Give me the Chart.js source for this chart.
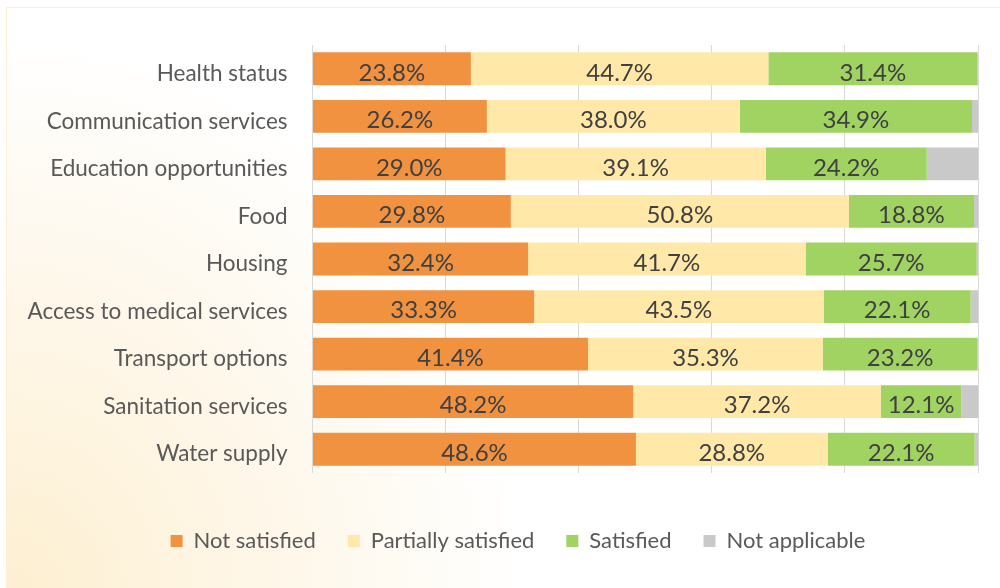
<!DOCTYPE html>
<html>
<head>
<meta charset="utf-8">
<script src="https://cdn.jsdelivr.net/npm/chart.js@4.4.1/dist/chart.umd.min.js"></script>
<style>
  html, body { margin: 0; padding: 0; background: #fff; }
  #wrap {
    position: relative; width: 1000px; height: 588px; overflow: hidden;
    background: #fff;
  }
  #frame {
    position: absolute; left: 6px; top: 7px; width: 1010px; height: 600px;
    border: 1px solid #fcefd6; box-sizing: border-box;
    background: radial-gradient(ellipse 520px 560px at 0px 588px, #fdefd0 0%, #fef6e6 45%, #ffffff 100%);
  }
  canvas { position: absolute; left: 0; top: 0; }
</style>
</head>
<body>
<div id="wrap">
  <div id="frame"></div>
  <canvas id="c" width="1000" height="588"></canvas>
</div>
<script>
// Survey categories, top to bottom
const categories = [
  'Health status', 'Communication services', 'Education opportunities', 'Food',
  'Housing', 'Access to medical services', 'Transport options',
  'Sanitation services', 'Water supply'
];
// Share of respondents (%) per answer
const notSatisfied       = [23.8, 26.2, 29.0, 29.8, 32.4, 33.3, 41.4, 48.2, 48.6];
const partiallySatisfied = [44.7, 38.0, 39.1, 50.8, 41.7, 43.5, 35.3, 37.2, 28.8];
const satisfied          = [31.4, 34.9, 24.2, 18.8, 25.7, 22.1, 23.2, 12.1, 22.1];
const notApplicable      = [0.1, 0.9, 7.7, 0.6, 0.2, 1.1, 0.1, 2.5, 0.5];
const seriesNames = ['Not satisfied', 'Partially satisfied', 'Satisfied', 'Not applicable'];
const seriesColors = ['#f19241', '#ffe8a8', '#a0d361', '#c9c9c9'];
const xTicks = [0, 20, 40, 60, 80, 100];

const FONT = 'Lato, "Open Sans", sans-serif';

// Writes the percentage in the middle of every labelled segment
const segmentLabels = {
  id: 'segmentLabels',
  afterDatasetsDraw(chart) {
    const ctx = chart.ctx;
    ctx.save();
    ctx.font = '24px ' + FONT;
    ctx.fillStyle = '#404040';
    ctx.textAlign = 'center';
    ctx.textBaseline = 'middle';
    chart.data.datasets.forEach((ds, di) => {
      if (!ds.showLabel) return;
      chart.getDatasetMeta(di).data.forEach((bar, i) => {
        const cx = (bar.x + bar.base) / 2;
        ctx.fillText(ds.data[i].toFixed(1) + '%', cx, bar.y + 4);
      });
    });
    ctx.restore();
  }
};

// Moves the legend row a little to the right of the canvas centre
const legendShift = {
  id: 'legendShift',
  afterLayout(chart) {
    const lg = chart.legend;
    if (lg) { lg.left += 29; lg.right += 29; }
  }
};

new Chart(document.getElementById('c'), {
  type: 'bar',
  data: {
    labels: categories,
    datasets: [
      { label: seriesNames[0], data: notSatisfied, backgroundColor: seriesColors[0], showLabel: true },
      { label: seriesNames[1], data: partiallySatisfied, backgroundColor: seriesColors[1], showLabel: true },
      { label: seriesNames[2], data: satisfied, backgroundColor: seriesColors[2], showLabel: true },
      { label: seriesNames[3], data: notApplicable, backgroundColor: seriesColors[3], showLabel: false }
    ]
  },
  options: {
    indexAxis: 'y',
    responsive: false,
    animation: false,
    devicePixelRatio: 1,
    layout: { padding: { top: 45, right: 22, left: 0, bottom: 26 } },
    datasets: { bar: { barPercentage: 0.69, categoryPercentage: 1.0, borderWidth: 0 } },
    scales: {
      x: {
        stacked: true, min: 0, max: 100,
        afterBuildTicks(scale) { scale.ticks = xTicks.map(v => ({ value: v })); },
        ticks: { display: false },
        grid: { color: '#d9d9d9', lineWidth: 1, drawTicks: false },
        border: { display: false },
        afterFit(scale) { scale.height = 25; }
      },
      y: {
        stacked: true,
        grid: { display: false, drawTicks: false },
        border: { display: false },
        ticks: { color: '#595959', font: { family: FONT, size: 22.5 }, padding: 25, labelOffset: 5 },
        afterFit(scale) { scale.width = 312.5; }
      }
    },
    plugins: {
      legend: {
        position: 'bottom',
        labels: {
          color: '#595959',
          font: { family: FONT, size: 22 },
          boxWidth: 12, boxHeight: 12, padding: 32
        }
      },
      tooltip: { enabled: false }
    }
  },
  plugins: [segmentLabels, legendShift]
});
</script>
</body>
</html>
